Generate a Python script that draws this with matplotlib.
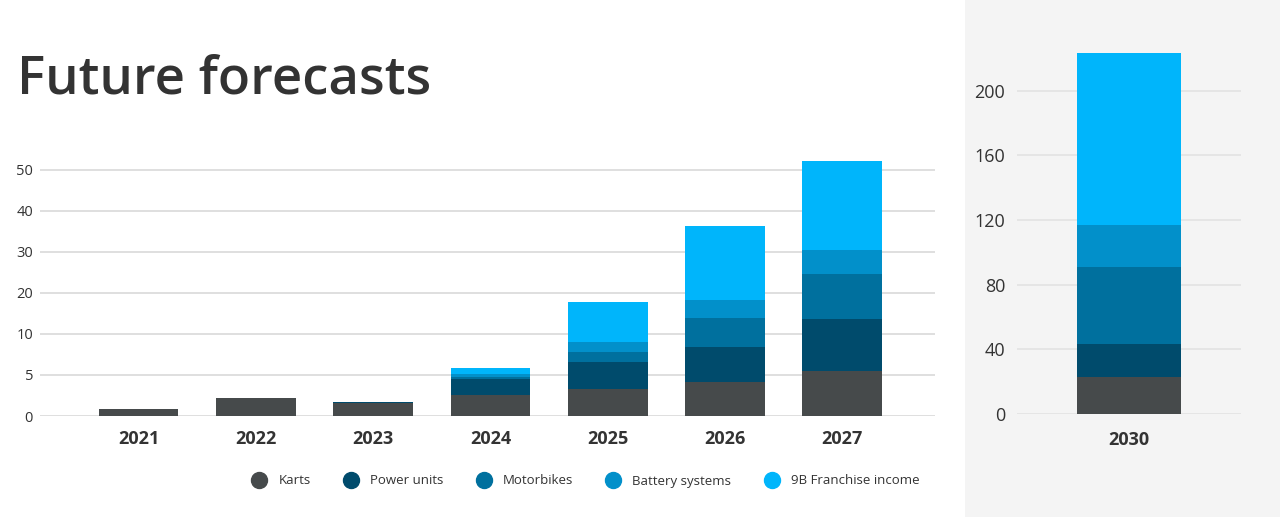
import numpy as np
import matplotlib.pyplot as plt
from matplotlib.patches import Rectangle
from matplotlib.lines import Line2D

plt.rcParams['font.family'] = ['Open Sans', 'DejaVu Sans']

years = ['2021', '2022', '2023', '2024', '2025', '2026', '2027']
series = ['Karts', 'Power units', 'Motorbikes', 'Battery systems', '9B Franchise income']
colors = ['#464a4b', '#004b6c', '#00709e', '#0290ca', '#00b5fb']

karts = [0.8, 2.2, 1.55, 2.55, 3.3, 4.2, 5.5]
power = [0, 0, 0.2, 1.9, 3.25, 4.25, 8.15]
motorbikes = [0, 0, 0, 0.32, 1.25, 5.45, 10.9]
battery = [0, 0, 0, 0.3, 1.2, 4.4, 6.0]
franchise = [0, 0, 0, 0.8, 8.8, 18.0, 21.5]

year_2030 = ['2030']
values_2030 = [22.8, 20.4, 47.7, 25.8, 106.6]

left_ticks = [0, 5, 10, 20, 30, 40, 50]
right_ticks = [0, 40, 80, 120, 160, 200]


# axis is stretched below 10 (0-5-10 spaced like 10-20-30)
def fwd(v):
    v = np.asarray(v, dtype=float)
    return np.where(v <= 10, 2 * v, v + 10)


def inv(u):
    u = np.asarray(u, dtype=float)
    return np.where(u <= 20, u / 2, u - 10)


fig = plt.figure(figsize=(12.8, 5.17), dpi=100)
fig.patches.append(Rectangle((965 / 1280, 0), 1 - 965 / 1280, 1, transform=fig.transFigure,
                             facecolor='#f4f4f4', edgecolor='none', zorder=-5))

fig.text(17 / 1280, 1 - 93 / 517, 'Future forecasts', fontsize=38, fontweight='semibold',
         color='#333333', va='baseline', ha='left')

# left chart
ax = fig.add_axes([40 / 1280, 1 - 416 / 517, 895 / 1280, 256 / 517])
ax.set_yscale('function', functions=(fwd, inv))
x = np.arange(len(years))
bottom = np.zeros(len(years))
for vals, c in zip([karts, power, motorbikes, battery, franchise], colors):
    ax.bar(x, vals, bottom=bottom, width=0.68, color=c, linewidth=0, zorder=3)
    bottom += np.array(vals)
ax.set_xlim(-0.84, 6.79)
ax.set_ylim(0, 52.4)
ax.set_yticks(left_ticks)
ax.set_yticklabels([str(t) for t in left_ticks])
ax.yaxis.set_minor_locator(plt.NullLocator())
ax.set_xticks(x)
ax.set_xticklabels(years, fontweight='bold', fontsize=13, color='#333333')
ax.grid(axis='y', color='#d9d9d9', linewidth=1.2, zorder=0)
ax.tick_params(axis='y', length=0, pad=5, labelsize=10.5, labelcolor='#333333')
ax.tick_params(axis='x', length=0, pad=10)
for s in ax.spines.values():
    s.set_visible(False)
ax.set_facecolor('none')

# right chart
ax2 = fig.add_axes([1017 / 1280, 1 - 414 / 517, 224 / 1280, 362 / 517])
b = 0
for v, c in zip(values_2030, colors):
    ax2.bar([0], [v], bottom=b, width=1.0, color=c, linewidth=0, zorder=3)
    b += v
ax2.set_xlim(-1.07, 1.07)
ax2.set_ylim(0, 224)
ax2.set_yticks(right_ticks)
ax2.set_xticks([0])
ax2.set_xticklabels(year_2030, fontweight='bold', fontsize=13, color='#333333')
ax2.grid(axis='y', color='#e2e2e2', linewidth=1.2, zorder=0)
ax2.tick_params(axis='y', length=0, pad=8.5, labelsize=13, labelcolor='#333333')
ax2.tick_params(axis='x', length=0, pad=12)
for s in ax2.spines.values():
    s.set_visible(False)
ax2.set_facecolor('none')

handles = [Line2D([], [], marker='o', linestyle='none', markersize=11.5,
                  markerfacecolor=c, markeredgecolor=c) for c in colors]
fig.legend(handles, series, loc='center', bbox_to_anchor=(586 / 1280, 1 - 481 / 517),
           ncol=5, frameon=False, fontsize=9.5, handlelength=1.0, handletextpad=0.95,
           columnspacing=2.55, labelcolor='#333333')

fig.savefig('out.png', dpi=100)
